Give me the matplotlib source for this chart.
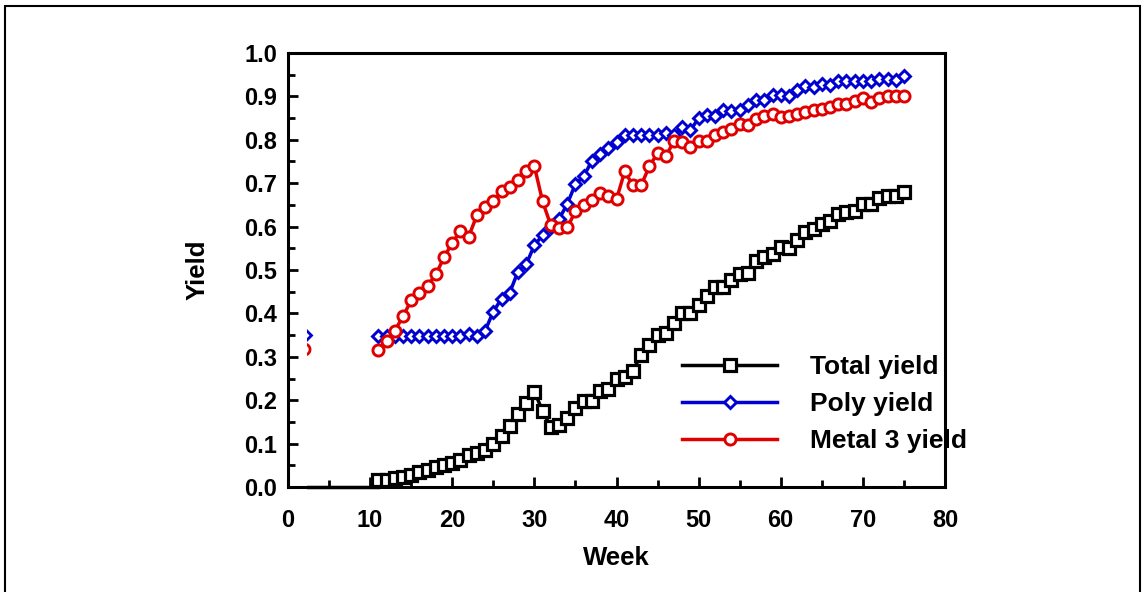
import matplotlib
matplotlib.use('Agg')
import matplotlib.pyplot as plt
import numpy as np
from matplotlib.patches import Rectangle

plt.rcParams['font.family'] = ['Liberation Sans', 'DejaVu Sans']
plt.rcParams['font.weight'] = 'bold'

# weekly yields, weeks 11..75
weeks = np.arange(11, 76)

total_yield = [0.016, 0.016, 0.020, 0.024, 0.028, 0.035, 0.040, 0.047, 0.051, 0.056,
               0.063, 0.073, 0.078, 0.086, 0.100, 0.118, 0.140, 0.168, 0.193, 0.220,
               0.175, 0.138, 0.143, 0.159, 0.182, 0.198, 0.199, 0.222, 0.226, 0.250,
               0.254, 0.268, 0.305, 0.328, 0.351, 0.355, 0.379, 0.402, 0.402, 0.420,
               0.439, 0.460, 0.460, 0.478, 0.490, 0.494, 0.520, 0.529, 0.536, 0.552,
               0.550, 0.570, 0.587, 0.594, 0.605, 0.612, 0.628, 0.633, 0.635, 0.651,
               0.651, 0.667, 0.670, 0.670, 0.679]

poly_yield = [0.347, 0.347, 0.347, 0.347, 0.347, 0.347, 0.347, 0.347, 0.347, 0.347,
              0.347, 0.352, 0.347, 0.360, 0.404, 0.434, 0.448, 0.496, 0.513, 0.557,
              0.580, 0.598, 0.617, 0.652, 0.698, 0.716, 0.751, 0.767, 0.781, 0.794,
              0.811, 0.810, 0.810, 0.810, 0.810, 0.815, 0.810, 0.829, 0.822, 0.850,
              0.857, 0.854, 0.868, 0.866, 0.868, 0.880, 0.891, 0.891, 0.903, 0.903,
              0.900, 0.915, 0.924, 0.921, 0.928, 0.926, 0.935, 0.935, 0.935, 0.935,
              0.935, 0.940, 0.940, 0.938, 0.947]

metal3_yield = [0.315, 0.337, 0.360, 0.393, 0.430, 0.448, 0.464, 0.490, 0.529, 0.563,
                0.589, 0.577, 0.626, 0.646, 0.658, 0.681, 0.691, 0.707, 0.727, 0.739,
                0.658, 0.603, 0.596, 0.598, 0.635, 0.649, 0.661, 0.677, 0.670, 0.663,
                0.727, 0.695, 0.695, 0.739, 0.769, 0.762, 0.797, 0.795, 0.783, 0.797,
                0.797, 0.811, 0.818, 0.825, 0.836, 0.834, 0.848, 0.855, 0.860, 0.852,
                0.855, 0.860, 0.864, 0.869, 0.871, 0.875, 0.882, 0.882, 0.890, 0.896,
                0.887, 0.896, 0.901, 0.900, 0.900]

# early stray points (mostly hidden at left)
early_weeks = [2, 11]
early_total = [0.0, 0.0]
early_poly = 0.351
early_metal = 0.319

fig = plt.figure(figsize=(11.44, 5.92), dpi=100)
ax = fig.add_axes([288/1144, 105/592, 657/1144, 434/592])

clip = Rectangle((2.3, -0.1), 80, 1.3, transform=ax.transData)

blue = '#0000d0'
red = '#e00000'

l0, = ax.plot(early_weeks, early_total, color='black', lw=2.5)
l0.set_clip_path(clip)
p1, = ax.plot([early_weeks[0]], [early_poly], marker='D', ms=7, mfc='white',
              mec=blue, mew=2, ls='none')
p1.set_clip_path(clip)
p2, = ax.plot([early_weeks[0]], [early_metal], marker='o', ms=8, mfc='white',
              mec=red, mew=2, ls='none')
p2.set_clip_path(clip)

ax.plot(weeks, total_yield, color='black', lw=2.5, marker='s', ms=8.5,
        mfc='white', mec='black', mew=2.3, label='Total yield')
ax.plot(weeks, poly_yield, color=blue, lw=2.5, marker='D', ms=6.5,
        mfc='white', mec=blue, mew=2.1, label='Poly yield')
ax.plot(weeks, metal3_yield, color=red, lw=2.5, marker='o', ms=8,
        mfc='white', mec=red, mew=2.1, label='Metal 3 yield')

ax.set_xlim(0, 80)
ax.set_ylim(0, 1.0)
ax.set_xticks(np.arange(0, 81, 10))
ax.set_xticks(np.arange(5, 80, 10), minor=True)
ax.set_yticks(np.arange(0, 1.01, 0.1))
ax.set_yticks(np.arange(0.05, 1.0, 0.1), minor=True)
ax.set_yticklabels(['%.1f' % v for v in np.arange(0, 1.01, 0.1)])

ax.tick_params(axis='both', which='both', direction='in', top=False, right=False,
               width=2, labelsize=17)
ax.tick_params(axis='both', which='major', length=7)
ax.tick_params(axis='both', which='minor', length=5)
ax.tick_params(axis='x', which='major', pad=16)
ax.tick_params(axis='y', which='major', pad=8)
for lab in ax.get_xticklabels() + ax.get_yticklabels():
    lab.set_fontweight('bold')

for s in ax.spines.values():
    s.set_linewidth(2.2)

ax.set_xlabel('Week', fontsize=18.5, fontweight='bold', labelpad=10)
ax.set_ylabel('Yield', fontsize=18.5, fontweight='bold')
ax.yaxis.set_label_coords(-0.119, 0.5)

ax.legend(loc='upper left', bbox_to_anchor=(682/1144, 1 - 355/592),
          bbox_transform=fig.transFigure, frameon=False,
          handlelength=3.6, handletextpad=1.25, labelspacing=0.5,
          borderpad=0, borderaxespad=0, prop={'weight': 'bold', 'size': 19})

# outer frame
fig.patches.append(Rectangle((5/1144, -0.05), 1135/1144, 1.05 - 6/592,
                             transform=fig.transFigure, fill=False,
                             edgecolor='black', lw=1.5))

fig.savefig('out.png', dpi=100)
